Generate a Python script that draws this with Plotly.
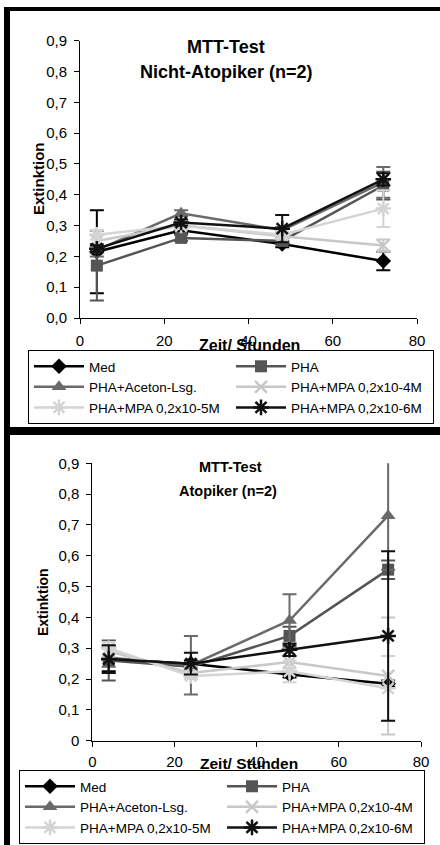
import plotly.graph_objects as go

# ---------------- data ----------------
hours = [4, 24, 48, 72]
series_names = ["Med", "PHA", "PHA+Aceton-Lsg.", "PHA+MPA 0,2x10-4M",
                "PHA+MPA 0,2x10-5M", "PHA+MPA 0,2x10-6M"]

# Nicht-Atopiker (top)
na_med = [0.215, 0.285, 0.24, 0.185]
na_pha = [0.17, 0.26, 0.25, 0.43]
na_ace = [0.22, 0.34, 0.285, 0.44]
na_m4 = [0.25, 0.30, 0.265, 0.235]
na_m5 = [0.27, 0.30, 0.27, 0.355]
na_m6 = [0.225, 0.31, 0.29, 0.45]
na_med_err = [0.135, 0.01, 0.01, 0.03]
na_pha_err = [0.113, 0.01, 0.01, 0.045]
na_ace_err = [0.02, 0.01, 0.01, 0.05]
na_m4_err = [0.02, 0.01, 0.01, 0.02]
na_m5_err = [0.015, 0.01, 0.01, 0.06]
na_m6_err = [0.01, 0.01, 0.044, 0.02]

# Atopiker (bottom)
at_med = [0.265, 0.25, 0.215, 0.185]
at_pha = [0.26, 0.24, 0.34, 0.555]
at_ace = [0.27, 0.245, 0.39, 0.73]
at_m4 = [0.29, 0.22, 0.255, 0.21]
at_m5 = [0.30, 0.21, 0.225, 0.17]
at_m6 = [0.265, 0.25, 0.295, 0.34]
at_med_err = [0.04, 0.01, 0.01, 0.01]
at_pha_err = [0.065, 0.01, 0.03, 0.03]
at_ace_err = [0.03, 0.095, 0.085, 0.175]
at_m4_err = [0.02, 0.02, 0.02, 0.19]
at_m5_err = [0.02, 0.01, 0.035, 0.105]
at_m6_err = [0.045, 0.035, 0.02, 0.275]

x_ticks = [0, 20, 40, 60, 80]
y_ticks = [0, 0.1, 0.2, 0.3, 0.4, 0.5, 0.6, 0.7, 0.8, 0.9]
y_labels_top = ["0,0", "0,1", "0,2", "0,3", "0,4", "0,5", "0,6", "0,7", "0,8", "0,9"]
y_labels_bot = ["0", "0,1", "0,2", "0,3", "0,4", "0,5", "0,6", "0,7", "0,8", "0,9"]

# ---------------- styles ----------------
colors = ["#000000", "#555555", "#6a6a6a", "#c8c8c8", "#d4d4d4", "#111111"]
symbols = ["diamond", "square", "triangle-up", "x-thin-open", "asterisk-open", "asterisk-open"]
sizes = [12, 12, 13, 12, 13, 13]

W, H = 440, 845
FONT = "Liberation Sans, Arial, sans-serif"


def px_x(p):
    return p / W


def px_y(p):
    return 1 - p / H


fig = go.Figure()

top_vals = [na_med, na_pha, na_ace, na_m4, na_m5, na_m6]
top_errs = [na_med_err, na_pha_err, na_ace_err, na_m4_err, na_m5_err, na_m6_err]
bot_vals = [at_med, at_pha, at_ace, at_m4, at_m5, at_m6]
bot_errs = [at_med_err, at_pha_err, at_ace_err, at_m4_err, at_m5_err, at_m6_err]


def add_series(vals, errs, xa, ya, legend):
    for i, name in enumerate(series_names):
        open_sym = symbols[i].endswith("open")
        fig.add_trace(go.Scatter(
            x=hours, y=vals[i], name=name, mode="lines+markers",
            xaxis=xa, yaxis=ya, legend=legend, cliponaxis=False,
            line=dict(color=colors[i], width=2.5),
            marker=dict(symbol=symbols[i], size=sizes[i], color=colors[i],
                        line=dict(color=colors[i], width=2.5 if open_sym else 0)),
            error_y=dict(type="data", array=errs[i], visible=True,
                         color=colors[i], thickness=2, width=7),
        ))


add_series(top_vals, top_errs, "x", "y", "legend")
add_series(bot_vals, bot_errs, "x2", "y2", "legend2")

axis_common = dict(showgrid=False, zeroline=False, showline=True, linecolor="#000000",
                   linewidth=1, ticks="outside", ticklen=5, tickcolor="#000000",
                   tickfont=dict(family=FONT, size=15, color="#000000"))

top_x0, top_x1 = 80, 417
top_y0, top_y1 = 40.7, 318
bot_x0, bot_x1 = 92.3, 421
bot_y0, bot_y1 = 463.3, 740.7

legend_common = dict(orientation="h", xanchor="left", yanchor="top",
                     bordercolor="#000000", borderwidth=1, bgcolor="white",
                     font=dict(family=FONT, size=13.5, color="#000000"),
                     itemwidth=50, entrywidth=137, entrywidthmode="pixels",
                     tracegroupgap=0, itemsizing="trace")

fig.update_layout(
    width=W, height=H,
    margin=dict(l=0, r=0, t=0, b=0, autoexpand=False),
    paper_bgcolor="white", plot_bgcolor="white",
    font=dict(family=FONT, color="#000000"),
    xaxis=dict(domain=[px_x(top_x0), px_x(top_x1)], range=[0, 80], anchor="y",
               tickvals=x_ticks, ticklabelstandoff=4, **axis_common),
    yaxis=dict(domain=[px_y(top_y1), px_y(top_y0)], range=[0, 0.9], anchor="x",
               tickvals=y_ticks, ticktext=y_labels_top, ticklabelstandoff=4, **axis_common),
    xaxis2=dict(domain=[px_x(bot_x0), px_x(bot_x1)], range=[0, 80], anchor="y2",
                tickvals=x_ticks, ticklabelstandoff=2, **axis_common),
    yaxis2=dict(domain=[px_y(bot_y1), px_y(bot_y0)], range=[0, 0.9], anchor="x2",
                tickvals=y_ticks, ticktext=y_labels_bot, ticklabelstandoff=4, **axis_common),
    legend=dict(x=px_x(28), y=px_y(350), **legend_common),
    legend2=dict(x=px_x(19), y=px_y(770), **legend_common),
    showlegend=True,
)

annotations = [
    dict(text="<b>MTT-Test</b>", x=px_x(226), y=px_y(47), font=dict(size=18)),
    dict(text="<b>Nicht-Atopiker (n=2)</b>", x=px_x(226), y=px_y(72), font=dict(size=18)),
    dict(text="<b>Extinktion</b>", x=px_x(38), y=px_y(179), textangle=-90, font=dict(size=15)),
    dict(text="<b>Zeit/ Stunden</b>", x=px_x(249), y=px_y(345), font=dict(size=16)),
    dict(text="<b>MTT-Test</b>", x=px_x(230), y=px_y(467), font=dict(size=14.5)),
    dict(text="<b>Atopiker (n=2)</b>", x=px_x(228), y=px_y(491), font=dict(size=14.5)),
    dict(text="<b>Extinktion</b>", x=px_x(43), y=px_y(602), textangle=-90, font=dict(size=14)),
    dict(text="<b>Zeit/ Stunden</b>", x=px_x(249), y=px_y(763), font=dict(size=15.5)),
]
for a in annotations:
    a.update(xref="paper", yref="paper", showarrow=False, xanchor="center", yanchor="middle")
    a["font"].update(family=FONT, color="#000000")
fig.update_layout(annotations=annotations)

# black frame lines
frame = [
    (4, 7, W, 11),      # top
    (4, 7, 10, H),      # left
    (4, 427, W, 435),   # middle band
]
fig.update_layout(shapes=[
    dict(type="rect", xref="paper", yref="paper", x0=px_x(a), x1=px_x(c),
         y0=px_y(d), y1=px_y(b), fillcolor="#000000", line=dict(width=0), layer="above")
    for a, b, c, d in frame
])

fig.write_html("out.html", config={"displayModeBar": False},
               post_script="document.body.style.margin='0';document.body.style.overflow='hidden';")
